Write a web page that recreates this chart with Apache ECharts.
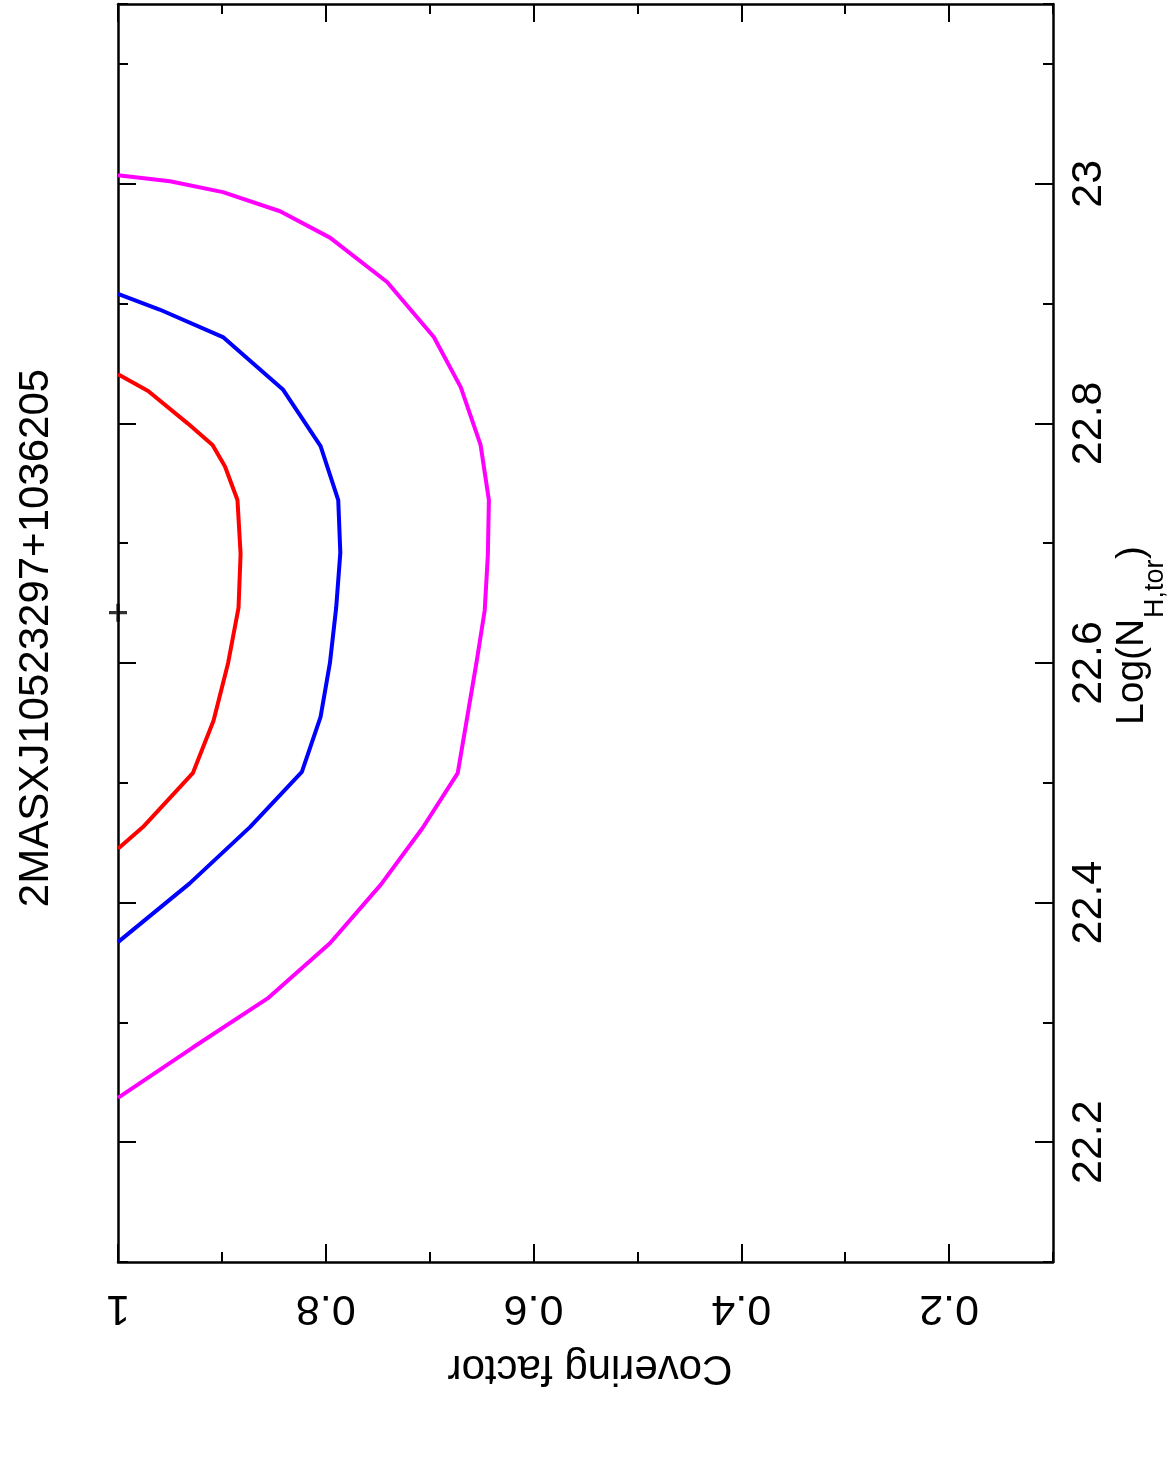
<!DOCTYPE html>
<html>
<head>
<meta charset="utf-8">
<script src="https://cdn.jsdelivr.net/npm/echarts@6/dist/echarts.min.js"></script>
<style>
html,body{margin:0;padding:0;background:#fff;}
#chart{width:1167px;height:1459px;}
</style>
</head>
<body>
<div id="chart"></div>
<script>
// ---- data (covering factor, log NH) ----
const redCF  = [1.0, 0.971, 0.933, 0.909, 0.897, 0.885, 0.882, 0.884, 0.894, 0.908, 0.928, 0.976, 1.0];
const redNH  = [22.841, 22.827, 22.800, 22.782, 22.764, 22.736, 22.691, 22.646, 22.600, 22.552, 22.508, 22.463, 22.445];
const blueCF = [1.0, 0.960, 0.899, 0.841, 0.805, 0.788, 0.786, 0.790, 0.796, 0.805, 0.823, 0.873, 0.931, 1.0];
const blueNH = [22.908, 22.895, 22.872, 22.828, 22.781, 22.736, 22.692, 22.646, 22.600, 22.555, 22.509, 22.463, 22.416, 22.367];
const magCF  = [1.0, 0.950, 0.899, 0.844, 0.796, 0.741, 0.696, 0.670, 0.651, 0.643, 0.644, 0.647, 0.655, 0.664, 0.673, 0.707, 0.747, 0.796, 0.856, 0.928, 1.0];
const magNH  = [23.007, 23.002, 22.993, 22.977, 22.955, 22.918, 22.872, 22.830, 22.782, 22.736, 22.690, 22.644, 22.600, 22.554, 22.508, 22.462, 22.415, 22.366, 22.320, 22.279, 22.237];
const bestCF = [1.0];
const bestNH = [22.642];
const covTicks = [1, 0.8, 0.6, 0.4, 0.2];
const nhTicks = [22.2, 22.4, 22.6, 22.8, 23];
const titleText = '2MASXJ10523297+1036205';
const xName = 'Covering factor';

const FONT = 'Liberation Sans';
const pair = (a, b) => a.map((v, i) => [v, b[i]]);

const lineW = 2.5;
const tickW = 2;
function xAx(pos, major, labels) {
  return {
    type: 'value', inverse: true, min: 0.1, max: 1, interval: 0.1, position: pos,
    axisLine: { show: !major, lineStyle: { color: '#000', width: lineW } },
    axisTick: major ? { show: true, inside: true, length: 18, customValues: covTicks, lineStyle: { color: '#000', width: tickW } }
                    : { show: true, inside: true, length: 10, lineStyle: { color: '#000', width: tickW } },
    axisLabel: labels ? { show: true, customValues: covTicks, rotate: 180, margin: 24, fontSize: 43, color: '#000', fontFamily: FONT }
                      : { show: false },
    splitLine: { show: false }
  };
}
function yAx(pos, major, labels) {
  return {
    type: 'value', min: 22.1, max: 23.15, interval: 0.1, position: pos,
    axisLine: { show: !major, lineStyle: { color: '#000', width: lineW } },
    axisTick: major ? { show: true, inside: true, length: 18, customValues: nhTicks, lineStyle: { color: '#000', width: tickW } }
                    : { show: true, inside: true, length: 10, lineStyle: { color: '#000', width: tickW } },
    axisLabel: labels ? { show: true, customValues: nhTicks, rotate: 90, margin: 15, fontSize: 43, color: '#000', fontFamily: FONT }
                      : { show: false },
    splitLine: { show: false }
  };
}

const chart = echarts.init(document.getElementById('chart'), null, { renderer: 'canvas' });
chart.setOption({
  animation: false,
  backgroundColor: '#fff',
  grid: { left: 118, right: 114, top: 4, bottom: 197, containLabel: false },
  xAxis: [xAx('bottom', false, true), xAx('bottom', true, false), xAx('top', false, false), xAx('top', true, false)],
  yAxis: [yAx('right', false, true), yAx('right', true, false), yAx('left', false, false), yAx('left', true, false)],
  series: [
    { type: 'line', data: pair(magCF, magNH), showSymbol: false, symbol: 'none', clip: false, lineStyle: { color: '#ff00ff', width: 4 } },
    { type: 'line', data: pair(blueCF, blueNH), showSymbol: false, symbol: 'none', clip: false, lineStyle: { color: '#0000ff', width: 4 } },
    { type: 'line', data: pair(redCF, redNH), showSymbol: false, symbol: 'none', clip: false, lineStyle: { color: '#ff0000', width: 4 } },
    { type: 'scatter', data: pair(bestCF, bestNH), clip: false, z: 10, symbol: 'path://M6.5,0H9.5V6.5H16V9.5H9.5V16H6.5V9.5H0V6.5H6.5Z', symbolSize: [18, 18], symbolKeepAspect: true, itemStyle: { color: '#000' } }
  ],
  graphic: [
    { type: 'text', x: 36, y: 638, rotation: Math.PI / 2,
      style: { text: titleText, x: 0, y: 0, align: 'center', verticalAlign: 'middle', fontSize: 42, fontFamily: FONT, fill: '#000' } },
    { type: 'text', x: 590, y: 1368, rotation: Math.PI,
      style: { text: xName, x: 0, y: 0, align: 'center', verticalAlign: 'middle', fontSize: 42, fontFamily: FONT, fill: '#000' } },
    { type: 'group', x: 1132, y: 634, rotation: Math.PI / 2, children: [
      { type: 'text', style: { text: 'Log(N', x: -91, y: 0, align: 'left', verticalAlign: 'middle', fontSize: 39, fontFamily: FONT, fill: '#000' } },
      { type: 'text', style: { text: 'H,tor', x: 16, y: 24, align: 'left', verticalAlign: 'middle', fontSize: 27, fontFamily: FONT, fill: '#000' } },
      { type: 'text', style: { text: ')', x: 75, y: 0, align: 'left', verticalAlign: 'middle', fontSize: 39, fontFamily: FONT, fill: '#000' } }
    ] }
  ]
});
</script>
</body>
</html>
